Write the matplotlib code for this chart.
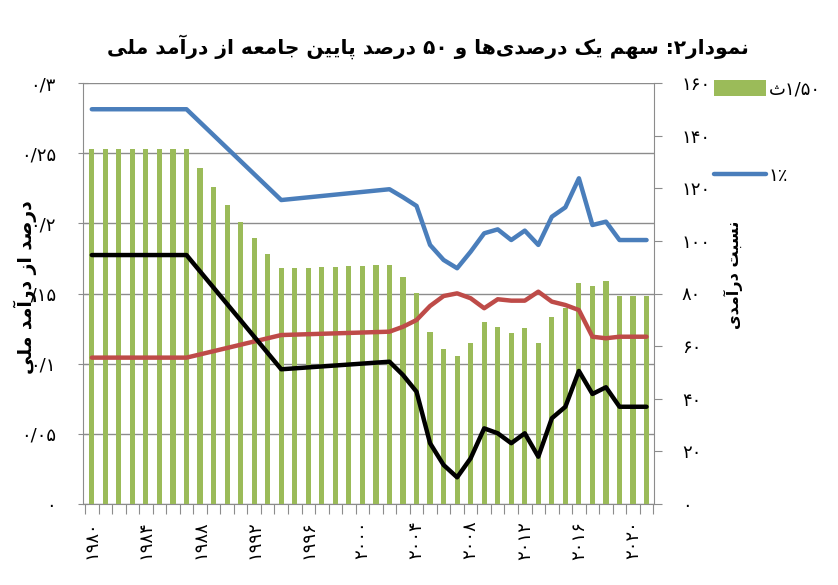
import matplotlib
matplotlib.use("Agg")
import matplotlib.pyplot as plt
from matplotlib.lines import Line2D
from matplotlib.patches import Patch

# ---- data ----
bar_years = list(range(1980, 2022))
ratio_1_50 = [134.8] * 8 + [
    127.6, 120.4, 113.5, 107.1, 101.0, 95.0, 89.6, 89.6, 89.8, 90.1, 90.2, 90.3,
    90.6, 90.8, 90.8, 86.2, 80.3, 65.3, 59.0, 56.1, 61.1, 69.3, 67.2, 65.0, 67.0,
    61.2, 71.0, 74.4, 84.1, 82.9, 84.9, 79.0, 79.0, 79.0,
]

line_years = [1980, 1987, 1994] + list(range(2002, 2022))
share_top1 = [0.2813, 0.2813, 0.2166, 0.2243, 0.2186, 0.2124, 0.1846, 0.1739, 0.1680,
              0.1798, 0.1929, 0.1957, 0.1881, 0.1948, 0.1846, 0.2047, 0.2114, 0.2321,
              0.1988, 0.2012, 0.1881, 0.1881, 0.1881]
share_bottom50 = [0.1774, 0.1774, 0.0960, 0.1014, 0.0919, 0.0800, 0.0433, 0.0278, 0.0190,
                  0.0326, 0.0539, 0.0504, 0.0433, 0.0504, 0.0337, 0.0611, 0.0693, 0.0948,
                  0.0784, 0.0832, 0.0693, 0.0693, 0.0693]
share_red = [0.1043, 0.1043, 0.1204, 0.1228, 0.1263, 0.1311, 0.1411, 0.1482, 0.1501,
             0.1466, 0.1395, 0.1459, 0.1449, 0.1449, 0.1513, 0.1442, 0.1418, 0.1382,
             0.1192, 0.1181, 0.1192, 0.1192, 0.1192]

left_ticks = [0, 0.05, 0.1, 0.15, 0.2, 0.25, 0.3]
left_labels = ["۰", "۰/۰۵", "۰/۱", "۰/۱۵", "۰/۲", "۰/۲۵", "۰/۳"]
right_ticks = [0, 20, 40, 60, 80, 100, 120, 140, 160]
right_labels = ["۰", "۲۰", "۴۰", "۶۰", "۸۰", "۱۰۰", "۱۲۰", "۱۴۰", "۱۶۰"]
year_ticks = list(range(1980, 2021, 4))
year_labels = ["۱۹۸۰", "۱۹۸۴", "۱۹۸۸", "۱۹۹۲", "۱۹۹۶", "۲۰۰۰",
               "۲۰۰۴", "۲۰۰۸", "۲۰۱۲", "۲۰۱۶", "۲۰۲۰"]

title = "نمودار۲: سهم یک درصدی\u200cها و ۵۰ درصد پایین جامعه از درآمد ملی"
left_title = "درصد از درآمد ملی"
right_title = "نسبت درآمدی"
legend_labels = ["۱/۵۰ث", "۱٪"]

GREEN = "#9BBB59"
BLUE = "#4A7EBB"
RED = "#BE4B48"
GRAY = "#8C8C8C"

# ---- minimal Persian shaping (matplotlib has no complex text layout) ----
# isolated, final, initial, medial
FORMS = {
    "ا": (0xFE8D, 0xFE8E), "آ": (0xFE81, 0xFE82), "د": (0xFEA9, 0xFEAA),
    "ذ": (0xFEAB, 0xFEAC), "ر": (0xFEAD, 0xFEAE), "ز": (0xFEAF, 0xFEB0),
    "ژ": (0xFB8A, 0xFB8B), "و": (0xFEED, 0xFEEE),
    "ب": (0xFE8F, 0xFE90, 0xFE91, 0xFE92), "پ": (0xFB56, 0xFB57, 0xFB58, 0xFB59),
    "ت": (0xFE95, 0xFE96, 0xFE97, 0xFE98), "ث": (0xFE99, 0xFE9A, 0xFE9B, 0xFE9C),
    "ج": (0xFE9D, 0xFE9E, 0xFE9F, 0xFEA0), "چ": (0xFB7A, 0xFB7B, 0xFB7C, 0xFB7D),
    "ح": (0xFEA1, 0xFEA2, 0xFEA3, 0xFEA4), "خ": (0xFEA5, 0xFEA6, 0xFEA7, 0xFEA8),
    "س": (0xFEB1, 0xFEB2, 0xFEB3, 0xFEB4), "ش": (0xFEB5, 0xFEB6, 0xFEB7, 0xFEB8),
    "ص": (0xFEB9, 0xFEBA, 0xFEBB, 0xFEBC), "ض": (0xFEBD, 0xFEBE, 0xFEBF, 0xFEC0),
    "ط": (0xFEC1, 0xFEC2, 0xFEC3, 0xFEC4), "ظ": (0xFEC5, 0xFEC6, 0xFEC7, 0xFEC8),
    "ع": (0xFEC9, 0xFECA, 0xFECB, 0xFECC), "غ": (0xFECD, 0xFECE, 0xFECF, 0xFED0),
    "ف": (0xFED1, 0xFED2, 0xFED3, 0xFED4), "ق": (0xFED5, 0xFED6, 0xFED7, 0xFED8),
    "ک": (0xFB8E, 0xFB8F, 0xFB90, 0xFB91), "گ": (0xFB92, 0xFB93, 0xFB94, 0xFB95),
    "ل": (0xFEDD, 0xFEDE, 0xFEDF, 0xFEE0), "م": (0xFEE1, 0xFEE2, 0xFEE3, 0xFEE4),
    "ن": (0xFEE5, 0xFEE6, 0xFEE7, 0xFEE8), "ه": (0xFEE9, 0xFEEA, 0xFEEB, 0xFEEC),
    "ی": (0xFBFC, 0xFBFD, 0xFBFE, 0xFBFF),
}
LTR = set("۰۱۲۳۴۵۶۷۸۹0123456789/.٪%")


def fa(text):
    out = []
    for i, ch in enumerate(text):
        if ch not in FORMS:
            if ch != "\u200c":
                out.append(ch)
            continue
        prev = text[i - 1] if i > 0 else ""
        nxt = text[i + 1] if i + 1 < len(text) else ""
        joins_prev = prev in FORMS and len(FORMS[prev]) == 4
        joins_next = len(FORMS[ch]) == 4 and nxt in FORMS
        f = FORMS[ch]
        if joins_prev and joins_next:
            out.append(chr(f[3]))
        elif joins_prev:
            out.append(chr(f[1]))
        elif joins_next:
            out.append(chr(f[2]))
        else:
            out.append(chr(f[0]))
    s = "".join(out)[::-1]
    # put number runs back in left-to-right order
    res, run = [], []
    for ch in s:
        if ch in LTR:
            run.append(ch)
        else:
            res.extend(run[::-1])
            run = []
            res.append(ch)
    res.extend(run[::-1])
    return "".join(res)


plt.rcParams["font.family"] = ["DejaVu Sans"]

fig = plt.figure(figsize=(8.38, 5.85), dpi=100)
rect = [83 / 838, 1 - 504 / 585, (654 - 83) / 838, (504 - 83) / 585]

# left axis: gridlines + ticks
ax = fig.add_axes(rect)
ax.set_zorder(0)
ax.set_ylim(0, 0.3)
ax.set_xlim(1979.35, 2021.55)
ax.set_yticks(left_ticks, left_labels, fontsize=13)
ax.grid(axis="y", color=GRAY, linewidth=1.0)
ax.tick_params(axis="y", direction="inout", length=7, color=GRAY, pad=16)
ax.set_xticks([y - 0.5 for y in bar_years + [2022]])
ax.set_xticklabels([])
ax.set_xticks(year_ticks, year_labels, minor=True, rotation=90, fontsize=13)
ax.tick_params(axis="x", which="major", direction="out", length=7, color=GRAY)
ax.tick_params(axis="x", which="minor", length=0, pad=12)
for side in ["top", "right"]:
    ax.spines[side].set_visible(False)
ax.spines["left"].set_color(GRAY)
ax.spines["bottom"].set_color(GRAY)

# right axis: bars
axb = ax.twinx()
axb.set_zorder(1)
axb.set_ylim(0, 160)
axb.bar(bar_years, ratio_1_50, width=0.38, color=GREEN, label=fa(legend_labels[0]))
axb.set_yticks(right_ticks, right_labels, fontsize=13)
axb.tick_params(axis="y", direction="out", length=6, color=GRAY, pad=14)
for side in ["top", "left", "bottom"]:
    axb.spines[side].set_visible(False)
axb.spines["right"].set_color(GRAY)

# lines on top, left-axis scale
axl = fig.add_axes(rect, sharex=ax, sharey=ax)
axl.set_zorder(2)
axl.axis("off")
lw = 3.2
axl.plot(line_years, share_top1, color=BLUE, lw=lw, solid_capstyle="round", solid_joinstyle="round")
axl.plot(line_years, share_red, color=RED, lw=lw, solid_capstyle="round", solid_joinstyle="round")
axl.plot(line_years, share_bottom50, color="black", lw=lw, solid_capstyle="round", solid_joinstyle="round")

fig.text(428 / 838, 1 - 47 / 585, fa(title), ha="center", va="center",
         fontsize=14.5, fontweight="bold")
fig.text(25 / 838, 1 - 287 / 585, fa(left_title), rotation=90, ha="center", va="center",
         fontsize=13.5, fontweight="bold")
fig.text(733 / 838, 1 - 275 / 585, fa(right_title), rotation=90, ha="center", va="center",
         fontsize=11.5, fontweight="bold")

handles = [Patch(facecolor=GREEN), Line2D([], [], color=BLUE, lw=lw, solid_capstyle="round")]
leg = fig.legend(handles, [fa(t) for t in legend_labels], loc="upper left",
                 bbox_to_anchor=(707 / 838, 1 - 73 / 585), frameon=False, fontsize=13,
                 handlelength=2.85, handleheight=0.95, handletextpad=0.15, labelspacing=3.8,
                 borderaxespad=0)
leg.set_zorder(5)

fig.savefig("out.png", dpi=100)
